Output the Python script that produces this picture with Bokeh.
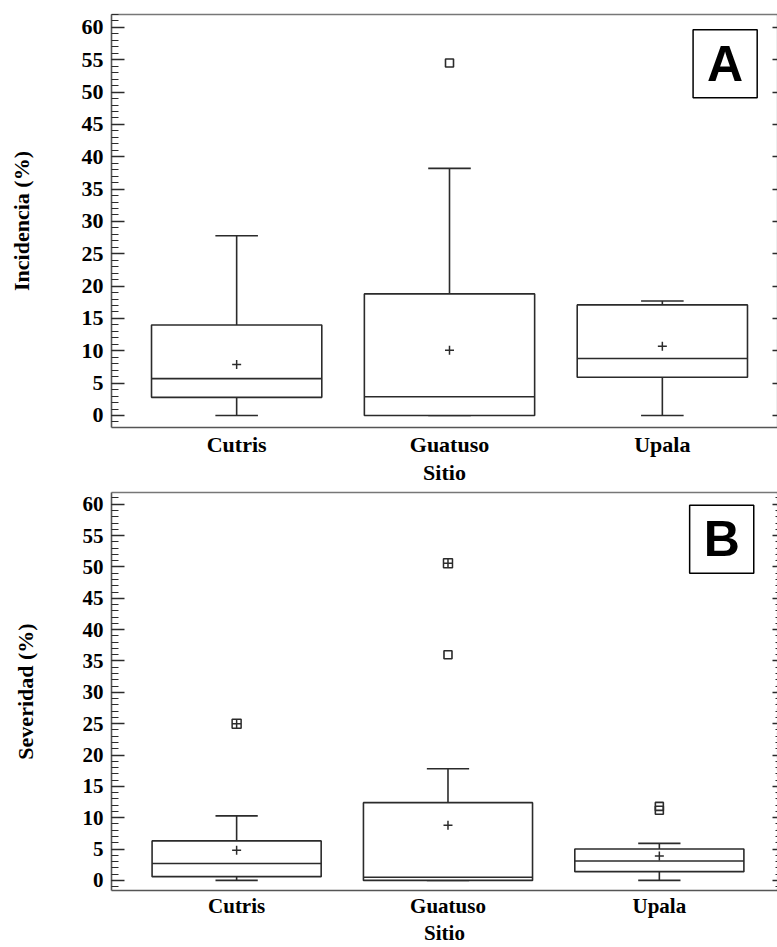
from bokeh.plotting import figure
from bokeh.layouts import column
from bokeh.models import (Range1d, FixedTicker, SingleIntervalTicker, LinearAxis, Label,
                          ColumnDataSource, CustomLabelingPolicy)
from bokeh.embed import file_html
from bokeh.resources import INLINE

sitios = ["Cutris", "Guatuso", "Upala"]

# Panel A: Incidencia (%)
inc_wlo = [0.0, 0.0, 0.0]
inc_q1 = [2.8, 0.0, 5.9]
inc_med = [5.7, 2.9, 8.8]
inc_q3 = [14.0, 18.8, 17.1]
inc_whi = [27.8, 38.2, 17.7]
inc_mean = [7.9, 10.1, 10.7]
inc_out_sitio = ["Guatuso"]
inc_out_val = [54.5]
inc_out_far = [False]

# Panel B: Severidad (%)
sev_wlo = [0.0, 0.0, 0.0]
sev_q1 = [0.6, 0.0, 1.4]
sev_med = [2.7, 0.5, 3.1]
sev_q3 = [6.3, 12.4, 5.0]
sev_whi = [10.3, 17.8, 5.9]
sev_mean = [4.8, 8.8, 3.9]
sev_out_sitio = ["Cutris", "Guatuso", "Guatuso", "Upala", "Upala"]
sev_out_val = [25.0, 50.6, 36.0, 11.2, 11.8]
sev_out_far = [True, True, False, False, False]

SERIF = "Liberation Serif"
LINE = "#2b2b2b"
FRAME = "#555555"
NO_LABELS = "for (const i of indices) indices.unset(i); return indices"


def panel(ylabel, letter, wlo, q1, med, q3, whi, mean, out_s, out_v, out_far,
          height, xr, yr, border_left, border_top, cat_size, tick_size,
          cat_standoff, ylab_standoff, dotted_right):
    p = figure(width=777, height=height, x_range=Range1d(*xr), y_range=Range1d(*yr),
               output_backend="svg", toolbar_location=None,
               min_border_left=border_left, min_border_right=0,
               min_border_top=border_top, min_border_bottom=0)
    p.grid.visible = False
    p.outline_line_color = None
    p.background_fill_color = "white"

    idx = list(range(len(sitios)))
    src = ColumnDataSource(dict(
        x=idx,
        xl=[i - 0.4 for i in idx], xr=[i + 0.4 for i in idx],
        cl=[i - 0.1 for i in idx], cr=[i + 0.1 for i in idx],
        wlo=wlo, q1=q1, med=med, q3=q3, whi=whi, mean=mean))

    lw = 1.6
    # whiskers
    p.segment(x0="x", y0="q3", x1="x", y1="whi", source=src, line_color=LINE, line_width=lw)
    p.segment(x0="x", y0="wlo", x1="x", y1="q1", source=src, line_color=LINE, line_width=lw)
    p.segment(x0="cl", y0="whi", x1="cr", y1="whi", source=src, line_color=LINE, line_width=lw)
    p.segment(x0="cl", y0="wlo", x1="cr", y1="wlo", source=src, line_color=LINE, line_width=lw)
    # boxes
    p.quad(left="xl", right="xr", bottom="q1", top="q3", source=src,
           fill_color="white", line_color=LINE, line_width=lw)
    p.segment(x0="xl", y0="med", x1="xr", y1="med", source=src, line_color=LINE, line_width=lw)
    # means
    p.scatter(x="x", y="mean", source=src, marker="cross", size=9,
              line_color=LINE, line_width=1.5)
    # outliers
    ox = [sitios.index(s) for s in out_s]
    near = dict(x=[x for x, f in zip(ox, out_far) if not f],
                y=[v for v, f in zip(out_v, out_far) if not f])
    far = dict(x=[x for x, f in zip(ox, out_far) if f],
               y=[v for v, f in zip(out_v, out_far) if f])
    if near["x"]:
        p.scatter(x="x", y="y", source=ColumnDataSource(near), marker="square", size=8,
                  fill_alpha=0.0, line_color=LINE, line_width=1.6)
    if far["x"]:
        p.scatter(x="x", y="y", source=ColumnDataSource(far), marker="square_cross", size=9,
                  fill_color="white", line_color=LINE, line_width=1.5)

    # x axis
    xa = p.xaxis[0]
    xa.ticker = FixedTicker(ticks=idx)
    xa.major_label_overrides = {i: s for i, s in zip(idx, sitios)}
    xa.major_tick_in = 0
    xa.major_tick_out = 0
    xa.minor_tick_line_color = None
    xa.axis_line_color = FRAME
    xa.axis_line_width = 1.6
    xa.major_label_text_font = SERIF
    xa.major_label_text_font_style = "bold"
    xa.major_label_text_font_size = cat_size
    xa.major_label_text_color = "black"
    xa.major_label_standoff = cat_standoff
    xa.axis_label = "Sitio"
    xa.axis_label_text_font = SERIF
    xa.axis_label_text_font_style = "bold"
    xa.axis_label_text_font_size = cat_size
    xa.axis_label_text_color = "black"
    xa.axis_label_standoff = 0

    # left y axis
    ya = p.yaxis[0]
    ya.ticker = SingleIntervalTicker(interval=5, num_minor_ticks=5)
    ya.major_tick_in = 13
    ya.major_tick_out = 0
    ya.minor_tick_in = 7
    ya.minor_tick_out = 0
    ya.major_tick_line_color = LINE
    ya.minor_tick_line_color = LINE
    ya.major_tick_line_width = 1.5
    ya.minor_tick_line_width = 1.2
    ya.axis_line_color = FRAME
    ya.axis_line_width = 1.6
    ya.major_label_text_font = SERIF
    ya.major_label_text_font_style = "bold"
    ya.major_label_text_font_size = tick_size
    ya.major_label_text_color = "black"
    ya.major_label_standoff = 8
    ya.axis_label = ylabel
    ya.axis_label_text_font = SERIF
    ya.axis_label_text_font_style = "bold"
    ya.axis_label_text_font_size = "22px"
    ya.axis_label_text_color = "black"
    ya.axis_label_standoff = ylab_standoff

    # top edge of the frame
    ta = LinearAxis(ticker=FixedTicker(ticks=[]),
                    major_label_policy=CustomLabelingPolicy(code=NO_LABELS),
                    major_label_text_font_size="0px", major_label_standoff=0,
                    major_tick_in=0, major_tick_out=0, minor_tick_in=0, minor_tick_out=0,
                    axis_line_color="#777777", axis_line_width=1.6)
    p.add_layout(ta, "above")

    # right axis: inner ticks only, no labels
    ra = LinearAxis(ticker=SingleIntervalTicker(interval=5, num_minor_ticks=5),
                    major_label_policy=CustomLabelingPolicy(code=NO_LABELS),
                    major_label_text_font_size="0px",
                    major_label_standoff=0,
                    major_tick_in=5, major_tick_out=0,
                    minor_tick_in=2 if dotted_right else 0, minor_tick_out=0,
                    major_tick_line_color=LINE, minor_tick_line_color=LINE,
                    major_tick_line_width=1.5,
                    axis_line_color=FRAME, axis_line_width=1.2,
                    axis_line_dash="dotted" if dotted_right else "solid")
    p.add_layout(ra, "right")

    lab = Label(x=2.295, y=54.4, text=letter, text_font="Liberation Sans",
                text_font_style="bold", text_font_size="50px", text_color="black",
                text_align="center", text_baseline="middle",
                border_line_color="black", border_line_width=1.5,
                background_fill_color="white",
                padding=dict(left=14, right=14, top=6, bottom=6))
    p.add_layout(lab)
    return p


pa = panel("Incidencia (%)", "A", inc_wlo, inc_q1, inc_med, inc_q3, inc_whi, inc_mean,
           inc_out_sitio, inc_out_val, inc_out_far,
           height=487, xr=(-0.588, 2.541), yr=(-1.86, 62.0),
           border_left=111, border_top=14, cat_size="22px", tick_size="22px",
           cat_standoff=4, ylab_standoff=45, dotted_right=False)
pb = panel("Severidad (%)", "B", sev_wlo, sev_q1, sev_med, sev_q3, sev_whi, sev_mean,
           sev_out_sitio, sev_out_val, sev_out_far,
           height=460, xr=(-0.592, 2.559), yr=(-1.61, 61.87),
           border_left=108, border_top=5, cat_size="21px", tick_size="21px",
           cat_standoff=3, ylab_standoff=42, dotted_right=True)

layout = column(pa, pb, spacing=0)
open("out.html", "w").write(file_html(layout, INLINE))
